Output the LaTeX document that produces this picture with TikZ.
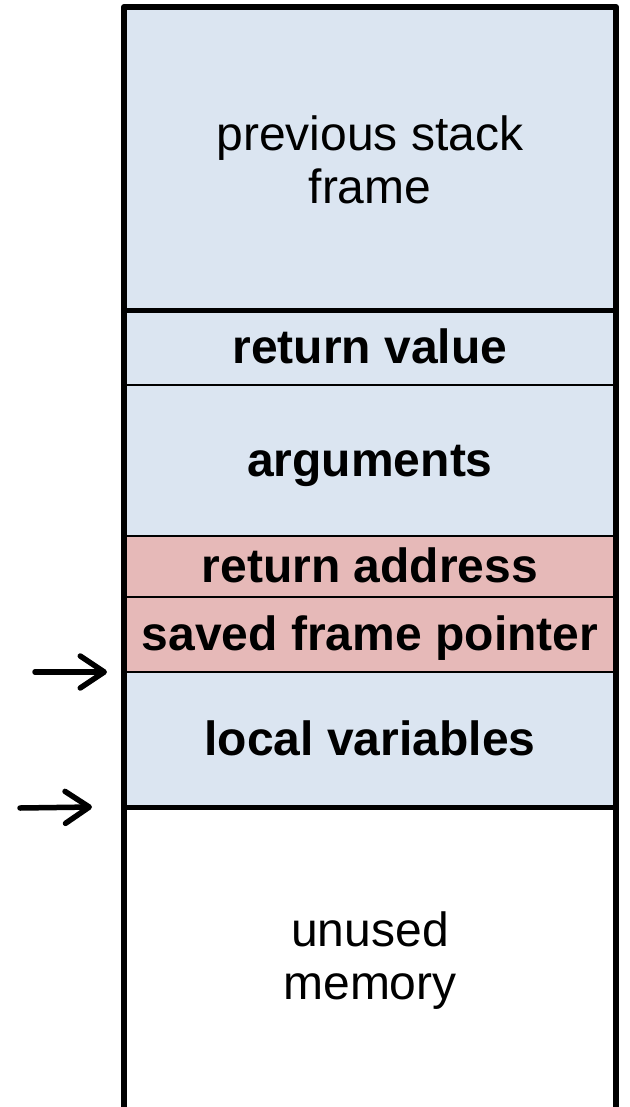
\documentclass[tikz,border=0pt]{standalone}
\usepackage{fontspec}
\setmainfont{Liberation Sans}
\usetikzlibrary{arrows.meta}
\definecolor{framebg}{HTML}{DBE5F1}
\definecolor{linkbg}{HTML}{E6B9B8}
\tikzset{
  cell/.style={draw=black, line width=2pt, anchor=north west, inner sep=0pt, outer sep=0pt,
    minimum width=492pt, align=center, font=\fontsize{48}{53}\selectfont},
  bluecell/.style={cell, fill=framebg},
  pinkcell/.style={cell, fill=linkbg},
  boldtext/.style={font=\fontsize{48}{53}\selectfont\bfseries, text height=36pt, text depth=5pt},
  heavy/.style={line width=5pt},
  outer/.style={line width=6pt, line join=round},
  ptr/.style={line width=5.5pt, line cap=round,
    -{Straight Barb[length=24pt,width=32pt,line width=5.5pt,round]}}
}
\begin{document}
\begin{tikzpicture}[x=1pt,y=-1pt]
  \useasboundingbox (0,0) rectangle (629,1107);
  % stack regions, top to bottom
  \node[bluecell, minimum height=305pt]           (prev)    at (124,7)   {previous stack\\frame};
  \node[bluecell, boldtext, minimum height=75pt]  (retval)  at (124,310) {return value};
  \node[bluecell, boldtext, minimum height=151pt] (args)    at (124,385) {arguments};
  \node[pinkcell, boldtext, minimum height=61pt]  (retaddr) at (124,536) {return address};
  \node[pinkcell, boldtext, minimum height=75pt]  (sfp)     at (124,597) {saved frame pointer};
  \node[bluecell, boldtext, minimum height=135pt] (locals)  at (124,672) {local variables};
  % the free area runs on past the lower edge of the page
  \node[cell, draw=none, minimum height=308pt]    (unused)  at (124,807) {unused\\memory};
  % frame boundaries
  \draw[heavy] (retval.north west) -- (retval.north east);
  \draw[heavy] (unused.north west) -- (unused.north east);
  \draw[outer] (unused.south west) -- (prev.north west) -- (prev.north east) -- (unused.south east);
  % frame pointer and stack pointer
  \coordinate (fp) at (35,672);
  \coordinate (sp) at (20,808);
  \draw[ptr] (fp) -- ([xshift=-17pt]locals.north west);
  \draw[ptr] (sp) -- ([xshift=-32pt]unused.north west);
\end{tikzpicture}
\end{document}
